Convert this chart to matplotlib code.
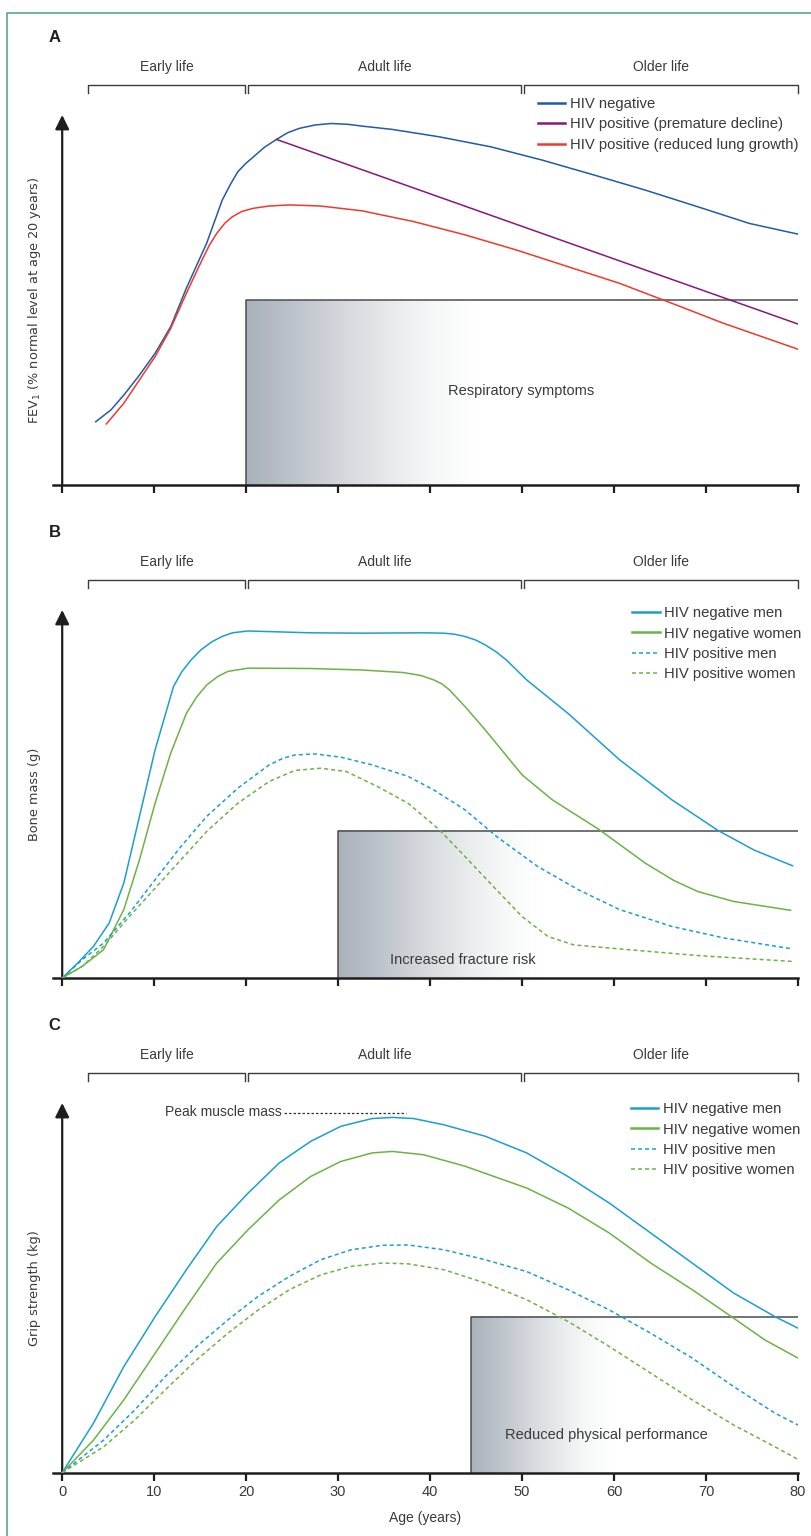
import numpy as np
import matplotlib.pyplot as plt
from matplotlib.colors import LinearSegmentedColormap
from matplotlib.lines import Line2D

plt.rcParams['font.family'] = ['Liberation Sans', 'DejaVu Sans']

# values in arbitrary units: 0 = x axis, 100 = tip of the y arrow
# ---------------- Panel A: FEV1 ----------------
a_neg_age = [3.65, 5.3, 6.7, 8.4, 10.1, 11.8, 13.5, 15.7, 17.4, 18.3, 19.1, 20.0, 20.8, 22.0, 23.3,
             24.5, 25.8, 27.5, 29.2, 31.0, 32.6, 35.9, 41.0, 46.6, 52.2, 57.8, 63.4, 69.1, 74.7,
             80.0]
a_neg_val = [17.1, 20.3, 24.3, 29.7, 35.6, 42.8, 53.2, 65.3, 77.0, 81.3, 84.7, 87.0, 88.7, 91.3, 93.4,
             95.2, 96.4, 97.3, 97.7, 97.5, 97.0, 96.1, 94.1, 91.4, 87.8, 83.8, 79.7, 75.2, 70.7,
             67.8]
a_dec_age = [23.3, 80.0]
a_dec_val = [93.4, 43.5]
a_red_age = [4.8, 6.7, 8.4, 10.1, 11.8, 13.5, 15.2, 16.0, 16.8, 17.7, 18.5, 19.5, 20.8, 22.5, 24.7,
             28.1, 32.6, 38.2, 43.8, 49.4, 55.0, 60.6, 66.3, 71.9, 80.0]
a_red_val = [16.5, 22.1, 28.4, 34.7, 42.3, 51.8, 60.8, 64.8, 68.0, 70.8, 72.5, 73.9, 74.8, 75.4, 75.7,
             75.4, 74.1, 71.2, 67.6, 63.5, 59.0, 54.5, 49.1, 43.7, 36.7]

# ---------------- Panel B: bone mass ----------------
b_negm_age = [0, 1.7, 3.4, 5.1, 6.7, 8.4, 10.1, 12.1, 13.0, 14.0, 15.1, 16.3, 17.4, 18.5, 20.2, 27.0,
              32.6, 39.3, 41.5, 42.7, 43.8, 45.0, 46.0, 47.2, 48.3, 50.5, 55.0, 60.6, 66.3, 71.3,
              75.2, 79.4]
b_negm_val = [0, 4.1, 8.6, 14.9, 25.8, 43.9, 62.0, 79.2, 83.2, 86.4, 89.2, 91.4, 92.8, 93.8, 94.3,
              93.8, 93.7, 93.8, 93.7, 93.4, 92.8, 91.8, 90.5, 88.6, 86.4, 81.0, 71.9, 59.3, 48.4,
              40.1, 34.8, 30.5]
b_negw_age = [0, 2.2, 4.5, 6.7, 8.4, 10.1, 11.8, 13.5, 14.6, 15.7, 16.9, 18.0, 20.2, 27.0, 32.6,
              37.1, 39.0, 40.4, 41.3, 42.1, 44.0, 46.0, 50.0, 53.3, 58.4, 63.4, 66.5, 69.1, 73.0,
              79.2]
b_negw_val = [0, 3.2, 7.7, 18.6, 32.1, 47.5, 61.1, 71.9, 76.3, 79.6, 81.9, 83.3, 84.2, 84.1, 83.7,
              83.0, 82.2, 81.0, 79.9, 78.3, 73.2, 67.4, 55.2, 48.4, 40.3, 31.2, 26.5, 23.5, 20.8,
              18.4]
b_posm_age = [0, 2.2, 4.5, 7.3, 10.1, 12.9, 15.7, 19.1, 22.5, 24.0, 25.3, 27.5, 30.3, 33.7, 37.6,
              40.4, 43.8, 47.2, 51.7, 56.1, 60.6, 66.3, 71.9, 79.4]
b_posm_val = [0, 5.0, 9.5, 17.6, 26.7, 35.7, 43.9, 51.6, 57.9, 59.7, 60.6, 60.9, 60.0, 57.9, 54.8,
              51.1, 45.7, 38.5, 30.3, 24.0, 18.6, 14.0, 10.9, 7.9]
b_posw_age = [0, 2.2, 4.5, 7.3, 10.1, 12.9, 15.7, 19.1, 22.5, 25.3, 28.1, 30.9, 34.3, 37.6, 41.0,
              43.8, 47.2, 50.0, 52.8, 55.6, 60.6, 69.1, 79.4]
b_posw_val = [0, 3.2, 8.6, 16.7, 24.4, 32.1, 39.8, 47.5, 53.4, 56.4, 57.0, 56.1, 52.0, 47.5, 40.3,
              33.0, 24.0, 16.7, 11.3, 9.0, 7.9, 6.1, 4.5]

# ---------------- Panel C: grip strength ----------------
c_negm_age = [0, 3.4, 6.7, 10.1, 13.5, 16.8, 20.2, 23.6, 27.0, 30.3, 33.7, 35.9, 38.2, 41.5, 46.0,
              50.5, 55.0, 59.5, 64.0, 68.5, 73.0, 77.5, 80.0]
c_negm_val = [0, 13.4, 28.7, 42.2, 54.9, 66.6, 75.6, 83.8, 89.6, 93.7, 95.8, 96.1, 95.8, 94.1, 91.0,
              86.5, 80.1, 72.9, 64.8, 56.7, 48.6, 42.2, 39.1]
c_negw_age = [0, 3.4, 6.7, 10.1, 13.5, 16.8, 20.2, 23.6, 27.0, 30.3, 33.7, 35.9, 39.3, 43.8, 50.5,
              55.0, 59.5, 64.0, 68.5, 73.0, 76.4, 80.0]
c_negw_val = [0, 8.8, 19.7, 32.3, 44.9, 56.7, 65.7, 73.8, 80.1, 84.2, 86.5, 86.9, 86.0, 82.9, 77.0,
              71.6, 64.8, 56.7, 49.5, 41.8, 35.9, 31.0]
c_posm_age = [0, 4.5, 7.9, 11.2, 14.6, 18.0, 21.3, 24.7, 28.1, 31.4, 34.8, 37.6, 41.5, 46.0, 50.5,
              55.0, 59.5, 64.0, 68.5, 73.0, 77.5, 80.0]
c_posm_val = [0, 8.8, 17.0, 26.0, 34.1, 41.3, 47.7, 53.1, 57.6, 60.3, 61.5, 61.6, 60.3, 57.6, 54.4,
              49.5, 44.0, 37.7, 31.0, 23.3, 16.1, 12.9]
c_posw_age = [0, 4.5, 7.9, 11.2, 14.6, 18.0, 21.3, 24.7, 28.1, 31.4, 34.8, 37.6, 41.5, 46.0, 50.5,
              55.0, 59.5, 64.0, 68.5, 73.0, 77.5, 80.0]
c_posw_val = [0, 7.0, 14.3, 22.4, 30.5, 37.7, 44.0, 49.5, 53.5, 55.8, 56.7, 56.5, 54.9, 51.3, 46.8,
              40.9, 34.1, 26.9, 19.7, 12.9, 7.0, 3.6]

life_stages = ['Early life', 'Adult life', 'Older life']
stage_bounds = [(2.8, 19.9), (20.2, 49.9), (50.2, 80.0)]
age_ticks = [0, 10, 20, 30, 40, 50, 60, 70, 80]

# colours
AXC = '#1e1e1e'
TXT = '#3a3a3a'
BLUE = '#1f5ca8'
PURPLE = '#86197a'
RED = '#ee3a2c'
CYAN = '#1b9fcf'
GREEN = '#6cb344'
DASH = (0, (2.6, 2.0))

grad_cmap = LinearSegmentedColormap.from_list(
    'fade', ['#a9b1ba', '#bcc3ca', '#d3d7dc', '#e6e9eb', '#f6f7f7', '#ffffff'])

W, H = 811, 1536
fig = plt.figure(figsize=(W / 100, H / 100), dpi=100)

# outer frame (left + top)
fig.add_artist(Line2D([7 / W, 7 / W, 1], [0, 1 - 13 / H, 1 - 13 / H],
                      transform=fig.transFigure, color='#4aa17c', lw=1.1))


def panel(base, tip, letter, ylabel, box, box_text, ticklabels):
    ax = fig.add_axes([53 / W, (H - base) / H, 745 / W, (base - tip) / H])
    x0, top, g1, tx, ty = box
    ax.imshow(np.linspace(0, 1, 256)[None, :], cmap=grad_cmap, extent=[x0, g1, 0, top],
              aspect='auto', interpolation='bilinear', zorder=0)
    ax.plot([x0, x0, 80], [0, top, top], color='#4d4d4d', lw=1.1, zorder=1)
    ax.text(tx, ty, box_text, ha='center', va='center', fontsize=10.5, color=TXT)

    ax.set_xlim(-1, 80)
    ax.set_ylim(0, 100)
    for s in ['left', 'top', 'right']:
        ax.spines[s].set_visible(False)
    ax.spines['bottom'].set_linewidth(1.8)
    ax.spines['bottom'].set_color(AXC)
    ax.set_xticks(age_ticks)
    ax.set_yticks([])
    ax.tick_params(axis='x', direction='out', length=6, width=1.6, color=AXC,
                   labelbottom=ticklabels, labelsize=10.5, labelcolor=TXT, pad=2.5)
    ax.annotate('', xy=(0, 100), xytext=(0, 0),
                arrowprops=dict(arrowstyle='-|>,head_length=0.85,head_width=0.42',
                                lw=1.6, color=AXC, shrinkA=0, shrinkB=0),
                annotation_clip=False)

    # life stage brackets
    for name, (s0, s1) in zip(life_stages, stage_bounds):
        ax.plot([s0, s0, s1, s1], [105.9, 108.1, 108.1, 105.9], color='#3c3c3c', lw=1.0,
                clip_on=False)
        ax.text((s0 + s1) / 2, 113, name, ha='center', va='center', fontsize=10, color=TXT)
    ax.text(-0.85, 121, letter, ha='center', va='center', fontsize=12, fontweight='bold',
            color=AXC)
    ax.text(-3.0, 50, ylabel, rotation=90, ha='center', va='center', fontsize=9.3,
            color=TXT, family='DejaVu Sans')
    return ax


def add_legend(ax, anchor):
    leg = ax.legend(loc='upper left', bbox_to_anchor=anchor, bbox_transform=ax.transData,
                    frameon=False, borderpad=0, borderaxespad=0, handlelength=1.85,
                    handletextpad=0.3, labelspacing=0.42, fontsize=10.7, labelcolor=TXT)
    for ln in leg.get_lines():
        if ln.get_linestyle() == '-':
            ln.set_linewidth(1.8)
    return leg


# ---- A ----
axA = panel(485, 115, 'A', r'FEV$_1$ (% normal level at age 20 years)',
            (20, 50, 45.3, 49.9, 25.4), 'Respiratory symptoms', False)
axA.plot(a_neg_age, a_neg_val, color=BLUE, lw=1.1, zorder=3, label='HIV negative')
axA.plot(a_dec_age, a_dec_val, color=PURPLE, lw=1.1, zorder=3,
         label='HIV positive (premature decline)')
axA.plot(a_red_age, a_red_val, color=RED, lw=1.1, zorder=3,
         label='HIV positive (reduced lung growth)')
add_legend(axA, (51.7, 104.8))

# ---- B ----
axB = panel(978, 610, 'B', 'Bone mass (g)',
            (30, 40, 52, 43.6, 5.0), 'Increased fracture risk', False)
axB.plot(b_negm_age, b_negm_val, color=CYAN, lw=1.1, zorder=3, label='HIV negative men')
axB.plot(b_negw_age, b_negw_val, color=GREEN, lw=1.1, zorder=3, label='HIV negative women')
axB.plot(b_posm_age, b_posm_val, color=CYAN, lw=1.1, ls=DASH, zorder=3, label='HIV positive men')
axB.plot(b_posw_age, b_posw_val, color=GREEN, lw=1.1, ls=DASH, zorder=3,
         label='HIV positive women')
add_legend(axB, (62.0, 101.0))

# ---- C ----
axC = panel(1472.7, 1103, 'C', 'Grip strength (kg)',
            (44.5, 42.2, 60, 59.2, 10.2), 'Reduced physical performance', True)
axC.plot(c_negm_age, c_negm_val, color=CYAN, lw=1.1, zorder=3, label='HIV negative men')
axC.plot(c_negw_age, c_negw_val, color=GREEN, lw=1.1, zorder=3, label='HIV negative women')
axC.plot(c_posm_age, c_posm_val, color=CYAN, lw=1.1, ls=DASH, zorder=3, label='HIV positive men')
axC.plot(c_posw_age, c_posw_val, color=GREEN, lw=1.1, ls=DASH, zorder=3,
         label='HIV positive women')
add_legend(axC, (61.8, 100.2))
axC.text(23.9, 97.6, 'Peak muscle mass', ha='right', va='center', fontsize=10, color=TXT)
axC.plot([24.1, 37.4], [97.4, 97.4], color='#333333', lw=0.9, ls=(0, (2, 1.6)), clip_on=False)
axC.set_xlabel('Age (years)', fontsize=10, color=TXT, labelpad=9)

fig.savefig('out.png', dpi=100)
